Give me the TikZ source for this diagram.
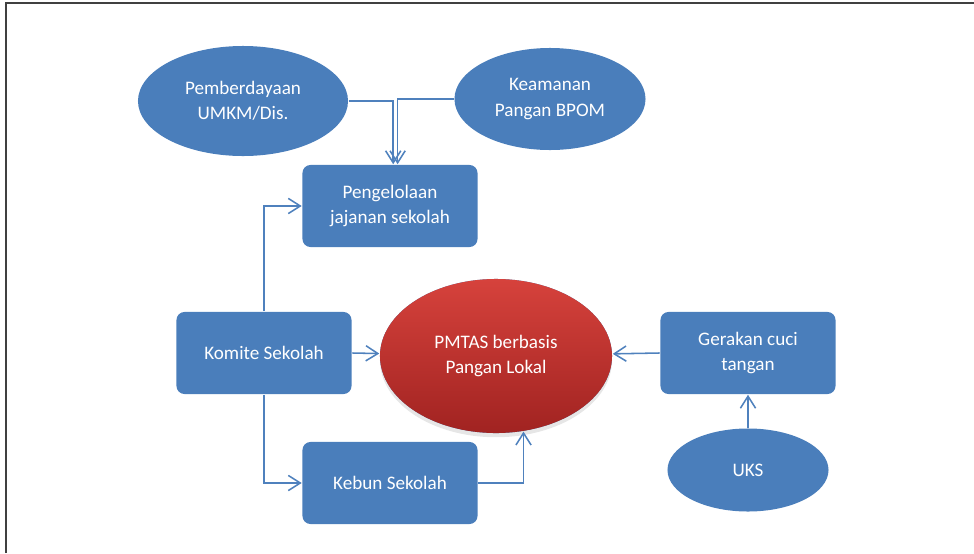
\documentclass[tikz,border=0pt]{standalone}
\usepackage{fontspec}
\setmainfont{Carlito}
\usetikzlibrary{arrows.meta, positioning, shapes.geometric, shadows}
\definecolor{cblue}{HTML}{4A7EBB}
\definecolor{cline}{HTML}{4F81BD}
\definecolor{credtop}{HTML}{D6423C}
\definecolor{credbot}{HTML}{A12321}
\definecolor{cframe}{HTML}{404040}
\tikzset{
  every picture/.style={line width=1.1pt},
  box/.style={fill=cblue, draw=none, rounded corners=0.2cm, text=white, align=center,
              minimum width=4.375cm, minimum height=2.05cm, font=\fontsize{13.6}{18}\selectfont},
  oval/.style={ellipse, fill=#1, draw=none, text=white, align=center, inner sep=0pt,
               font=\fontsize{13.6}{18}\selectfont},
  oval/.default=cblue,
  arrow/.style={-{Straight Barb[length=3mm, width=3.8mm]}, draw=cline, line width=1.1pt},
}

\begin{document}
\begin{tikzpicture}[x=0.025cm, y=-0.025cm]
  \useasboundingbox (0,0) rectangle (974,553);
  \draw[cframe, line width=1.5pt] (6,553) -- (6,3) -- (974,3);
  % top row
  \node[oval, minimum width=5.25cm, minimum height=2.75cm] (pemberdayaan) at (243,101) {Pemberdayaan\\UMKM/Dis.};
  \node[oval, minimum width=4.775cm, minimum height=2.55cm] (keamanan) at (550,99) {Keamanan\\Pangan BPOM};
  \node[box] (jajanan) at (390,206) {Pengelolaan\\jajanan sekolah};
  % middle row
  \node[box] (komite) at (264,353) {Komite Sekolah};
  \node[oval, minimum width=5.8cm, minimum height=3.85cm, top color=credtop, bottom color=credbot,
        drop shadow={shadow xshift=0pt, shadow yshift=-3pt, opacity=0.2}] (pmtas) at (496,356) {PMTAS berbasis\\Pangan Lokal};
  \node[box] (gerakan) at (748,353) {Gerakan cuci\\tangan};
  % bottom row
  \node[box] (kebun) at (390,483) {Kebun Sekolah};
  \node[oval, minimum width=4.025cm, minimum height=2.075cm] (uks) at (748,470) {UKS};
  % connectors
  \draw[arrow] (pemberdayaan.east) -| ([xshift=0.8mm]jajanan.north);
  \draw[arrow] (keamanan.west) -| ([xshift=1.9mm]jajanan.north);
  \draw[arrow] (komite.north) |- (jajanan.west);
  \draw[arrow] (komite.south) |- (kebun.west);
  \draw[arrow] (komite.east) -- (pmtas);
  \draw[arrow] (kebun.east) -| (pmtas.-70);
  \draw[arrow] (gerakan.west) -- (pmtas);
  \draw[arrow] (uks.north) -- (gerakan.south);
\end{tikzpicture}
\end{document}
